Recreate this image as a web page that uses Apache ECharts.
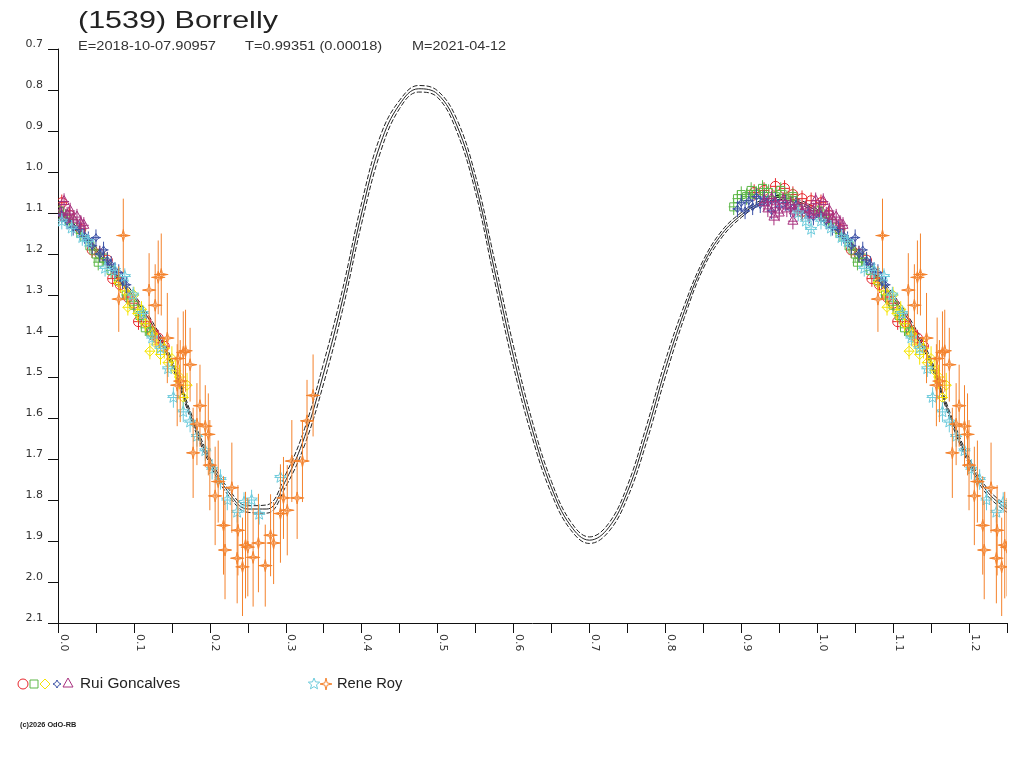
<!DOCTYPE html>
<html>
<head>
<meta charset="utf-8">
<title>(1539) Borrelly</title>
<script src="https://cdn.jsdelivr.net/npm/echarts@6.0.0/dist/echarts.min.js"></script>
<style>
  html, body { margin: 0; padding: 0; background: #fff; }
  #chart { width: 1024px; height: 768px; }
</style>
</head>
<body>
<div id="chart"></div>
<script>
// 光变曲线拟合 (phase 0..1, 之后 0..0.25 折叠重复)
var curvePhase = [0.000, 0.025, 0.050, 0.075, 0.100, 0.125, 0.150, 0.175, 0.200, 0.225,
  0.250, 0.275, 0.300, 0.325, 0.350, 0.375, 0.400, 0.425, 0.450, 0.475,
  0.500, 0.525, 0.550, 0.575, 0.600, 0.625, 0.650, 0.675, 0.700, 0.725,
  0.750, 0.775, 0.800, 0.825, 0.850, 0.875, 0.900, 0.925, 0.950, 0.975, 1.000];
var curveMag = [1.097, 1.140, 1.190, 1.245, 1.305, 1.375, 1.465, 1.595, 1.705, 1.782,
  1.822, 1.822, 1.752, 1.645, 1.490, 1.310, 1.100, 0.930, 0.835, 0.797,
  0.810, 0.885, 1.030, 1.240, 1.450, 1.630, 1.770, 1.862, 1.898, 1.868,
  1.780, 1.640, 1.480, 1.340, 1.225, 1.150, 1.105, 1.075, 1.062, 1.072, 1.097];
var curveHi = [1.091, 1.134, 1.184, 1.238, 1.298, 1.367, 1.457, 1.587, 1.697, 1.774,
  1.814, 1.812, 1.737, 1.625, 1.465, 1.285, 1.075, 0.910, 0.825, 0.789,
  0.802, 0.870, 1.010, 1.215, 1.425, 1.610, 1.755, 1.852, 1.890, 1.858,
  1.765, 1.620, 1.460, 1.325, 1.215, 1.142, 1.099, 1.070, 1.057, 1.067, 1.091];
var curveLo = [1.103, 1.146, 1.196, 1.252, 1.312, 1.383, 1.473, 1.603, 1.713, 1.790,
  1.830, 1.832, 1.767, 1.665, 1.515, 1.335, 1.125, 0.950, 0.845, 0.805,
  0.818, 0.900, 1.050, 1.265, 1.475, 1.650, 1.785, 1.872, 1.906, 1.878,
  1.795, 1.660, 1.500, 1.355, 1.235, 1.158, 1.111, 1.080, 1.067, 1.077, 1.103];

// Rui Goncalves: [phase, mag, err]
var rgRed = [[0.917, 1.050, 0.02], [0.930, 1.045, 0.02], [0.945, 1.035, 0.02], [0.957, 1.040, 0.02],
  [0.968, 1.055, 0.02], [0.980, 1.065, 0.02], [0.992, 1.070, 0.02], [0.005, 1.075, 0.02],
  [0.015, 1.105, 0.02], [0.030, 1.140, 0.02], [0.045, 1.190, 0.02], [0.055, 1.200, 0.02],
  [0.065, 1.215, 0.02], [0.072, 1.260, 0.02], [0.082, 1.275, 0.02], [0.092, 1.305, 0.02],
  [0.100, 1.320, 0.02], [0.106, 1.365, 0.02], [0.116, 1.365, 0.02], [0.124, 1.390, 0.02],
  [0.132, 1.405, 0.02], [0.140, 1.425, 0.02]];
var rgGreen = [[0.890, 1.085, 0.02], [0.895, 1.065, 0.02], [0.900, 1.055, 0.02], [0.907, 1.060, 0.02],
  [0.913, 1.045, 0.02], [0.920, 1.055, 0.02], [0.928, 1.040, 0.02], [0.936, 1.050, 0.02],
  [0.945, 1.060, 0.02], [0.952, 1.045, 0.02], [0.960, 1.065, 0.02], [0.968, 1.060, 0.02],
  [0.002, 1.095, 0.02], [0.010, 1.110, 0.02], [0.020, 1.125, 0.02], [0.030, 1.150, 0.02],
  [0.042, 1.180, 0.02], [0.050, 1.200, 0.02], [0.053, 1.220, 0.02], [0.060, 1.210, 0.02],
  [0.070, 1.240, 0.02], [0.080, 1.265, 0.02], [0.090, 1.300, 0.02], [0.100, 1.325, 0.02],
  [0.108, 1.350, 0.02], [0.115, 1.380, 0.02], [0.122, 1.390, 0.02]];
var rgYellow = [[0.975, 1.090, 0.02], [0.980, 1.100, 0.02], [0.080, 1.270, 0.02], [0.088, 1.290, 0.02],
  [0.092, 1.330, 0.02], [0.100, 1.300, 0.02], [0.105, 1.345, 0.02], [0.110, 1.335, 0.02],
  [0.115, 1.370, 0.02], [0.121, 1.437, 0.02], [0.125, 1.395, 0.02], [0.130, 1.420, 0.025],
  [0.135, 1.445, 0.025], [0.140, 1.430, 0.025], [0.145, 1.465, 0.025], [0.150, 1.455, 0.03],
  [0.155, 1.485, 0.03], [0.160, 1.500, 0.03], [0.165, 1.550, 0.03], [0.170, 1.520, 0.03]];
var rgBlue = [[0.895, 1.090, 0.02], [0.900, 1.075, 0.02], [0.905, 1.095, 0.02], [0.910, 1.070, 0.02],
  [0.915, 1.085, 0.02], [0.920, 1.060, 0.02], [0.925, 1.080, 0.02], [0.930, 1.065, 0.02],
  [0.935, 1.075, 0.02], [0.940, 1.095, 0.02], [0.945, 1.070, 0.02], [0.950, 1.085, 0.02],
  [0.958, 1.075, 0.02], [0.965, 1.090, 0.02], [0.972, 1.080, 0.02], [0.980, 1.095, 0.02],
  [0.988, 1.100, 0.02], [0.995, 1.110, 0.02], [0.005, 1.105, 0.02], [0.012, 1.120, 0.02],
  [0.020, 1.135, 0.02], [0.028, 1.140, 0.02], [0.035, 1.155, 0.02], [0.040, 1.165, 0.02],
  [0.045, 1.180, 0.02], [0.050, 1.160, 0.02], [0.055, 1.200, 0.02], [0.060, 1.190, 0.02],
  [0.065, 1.215, 0.02], [0.070, 1.225, 0.02], [0.075, 1.240, 0.02], [0.080, 1.245, 0.02],
  [0.085, 1.265, 0.02], [0.090, 1.275, 0.02]];
var rgPurple = [[0.930, 1.075, 0.02], [0.935, 1.090, 0.02], [0.940, 1.065, 0.02], [0.943, 1.110, 0.02],
  [0.945, 1.080, 0.02], [0.950, 1.100, 0.02], [0.955, 1.070, 0.02], [0.960, 1.090, 0.02],
  [0.965, 1.080, 0.02], [0.968, 1.120, 0.02], [0.970, 1.095, 0.02], [0.975, 1.085, 0.02],
  [0.980, 1.100, 0.02], [0.985, 1.090, 0.02], [0.990, 1.105, 0.02], [0.995, 1.095, 0.02],
  [0.998, 1.070, 0.02], [0.003, 1.100, 0.02], [0.008, 1.072, 0.02], [0.012, 1.105, 0.02],
  [0.016, 1.095, 0.02], [0.020, 1.115, 0.02], [0.025, 1.110, 0.02], [0.030, 1.125, 0.02],
  [0.034, 1.130, 0.02]];

// Rene Roy
var rrCyan = [[0.975, 1.100, 0.02], [0.985, 1.120, 0.02], [0.992, 1.140, 0.02], [0.005, 1.120, 0.02],
  [0.018, 1.137, 0.02], [0.032, 1.160, 0.02], [0.040, 1.170, 0.02], [0.062, 1.235, 0.02],
  [0.075, 1.240, 0.02], [0.088, 1.255, 0.02], [0.099, 1.300, 0.02], [0.112, 1.345, 0.02],
  [0.124, 1.405, 0.02], [0.135, 1.430, 0.02], [0.145, 1.480, 0.02], [0.152, 1.550, 0.025],
  [0.165, 1.585, 0.025], [0.174, 1.610, 0.025], [0.183, 1.645, 0.025], [0.194, 1.680, 0.025],
  [0.203, 1.725, 0.025], [0.214, 1.750, 0.025], [0.223, 1.800, 0.025], [0.236, 1.830, 0.025],
  [0.245, 1.806, 0.025], [0.255, 1.800, 0.025], [0.265, 1.835, 0.025], [0.293, 1.745, 0.025]];
var rrOrange = [[0.080, 1.310, 0.08], [0.086, 1.155, 0.09], [0.120, 1.288, 0.09], [0.128, 1.325, 0.10],
  [0.132, 1.257, 0.09], [0.136, 1.250, 0.10], [0.144, 1.405, 0.11], [0.157, 1.520, 0.10],
  [0.158, 1.455, 0.10], [0.165, 1.440, 0.10], [0.168, 1.436, 0.10], [0.174, 1.470, 0.09],
  [0.161, 1.510, 0.10], [0.187, 1.570, 0.10], [0.183, 1.615, 0.10], [0.194, 1.620, 0.10],
  [0.198, 1.640, 0.10], [0.178, 1.685, 0.11], [0.200, 1.715, 0.11], [0.211, 1.755, 0.10],
  [0.207, 1.790, 0.12], [0.229, 1.770, 0.11], [0.218, 1.862, 0.12], [0.237, 1.874, 0.11],
  [0.220, 1.922, 0.12], [0.247, 1.910, 0.13], [0.250, 1.915, 0.12], [0.264, 1.905, 0.12],
  [0.236, 1.942, 0.11], [0.243, 1.963, 0.12], [0.257, 1.940, 0.12], [0.273, 1.960, 0.10],
  [0.280, 1.886, 0.10], [0.284, 1.905, 0.10], [0.293, 1.833, 0.12], [0.302, 1.825, 0.11],
  [0.297, 1.795, 0.10], [0.315, 1.795, 0.10], [0.308, 1.705, 0.10], [0.322, 1.705, 0.10],
  [0.328, 1.607, 0.10], [0.336, 1.545, 0.10]];

var yTicks = [0.7, 2.1, 0.1];   // min, max, interval
var xTicks = [0, 1.25, 0.05];

var FONT = '"Liberation Sans", Arial, sans-serif';
var AXFONT = '"DejaVu Sans", sans-serif';

// 相位折叠: 0..0.25 的点在 1.0..1.25 重复画一次
function wrap(list) {
  var out = list.slice();
  list.forEach(function (d) {
    if (d[0] <= 0.25) out.push([d[0] + 1, d[1], d[2]]);
  });
  return out;
}

function wrapCurve(mags) {
  var out = [];
  curvePhase.forEach(function (p, i) { out.push([p, mags[i]]); });
  curvePhase.forEach(function (p, i) {
    if (p > 0 && p <= 0.25) out.push([p + 1, mags[i]]);
  });
  return out;
}

function starPts(x, y, R, r, n) {
  var pts = [];
  for (var i = 0; i < n * 2; i++) {
    var a = -Math.PI / 2 + i * Math.PI / n;
    var rad = i % 2 ? r : R;
    pts.push([x + rad * Math.cos(a), y + rad * Math.sin(a)]);
  }
  return pts;
}

// 各种符号
function markShape(kind, x, y, c) {
  var st = { fill: 'transparent', stroke: c, lineWidth: 1 };
  if (kind === 'circle') return { type: 'circle', shape: { cx: x, cy: y, r: 5 }, style: st };
  if (kind === 'square') return { type: 'rect', shape: { x: x - 4, y: y - 4, width: 8, height: 8 }, style: st };
  if (kind === 'diamond') return { type: 'polygon', shape: { points: [[x, y - 5], [x + 5, y], [x, y + 5], [x - 5, y]] }, style: st };
  if (kind === 'quad') return { type: 'polygon', shape: { points: starPts(x, y, 4, 2, 4) }, style: st };
  if (kind === 'triangle') return { type: 'polygon', shape: { points: [[x, y - 6], [x + 5, y + 3], [x - 5, y + 3]] }, style: st };
  if (kind === 'star') return { type: 'polygon', shape: { points: starPts(x, y, 6, 2.6, 5) }, style: st };
  return { type: 'polygon', shape: { points: starPts(x, y, 6, 1.6, 4) }, style: st };
}

function makeRender(kind, color, hw) {
  return function (params, api) {
    var p = api.value(0), m = api.value(1), e = api.value(2);
    var c = api.coord([p, m]);
    var top = api.coord([p, m - e]);
    var bot = api.coord([p, m + e]);
    var ls = { stroke: color, lineWidth: 1, fill: null };
    return {
      type: 'group',
      children: [
        { type: 'line', shape: { x1: c[0], y1: top[1], x2: c[0], y2: bot[1] }, style: ls },
        { type: 'line', shape: { x1: c[0] - hw, y1: c[1], x2: c[0] + hw, y2: c[1] }, style: ls },
        markShape(kind, c[0], c[1], color)
      ]
    };
  };
}

var sessions = [
  { name: 'Rui Goncalves', data: rgRed, kind: 'circle', color: '#e8262c', hw: 5 },
  { name: 'Rui Goncalves', data: rgGreen, kind: 'square', color: '#5cb746', hw: 5 },
  { name: 'Rui Goncalves', data: rgYellow, kind: 'diamond', color: '#f6e400', hw: 5 },
  { name: 'Rui Goncalves', data: rgBlue, kind: 'quad', color: '#3a50a6', hw: 5 },
  { name: 'Rui Goncalves', data: rgPurple, kind: 'triangle', color: '#a8307e', hw: 5 },
  { name: 'Rene Roy', data: rrCyan, kind: 'star', color: '#6ccbdc', hw: 6 },
  { name: 'Rene Roy', data: rrOrange, kind: 'sparkle', color: '#f4822c', hw: 7 }
];

var series = [
  { type: 'line', data: wrapCurve(curveHi), showSymbol: false, smooth: 0.4, silent: true, z: 1,
    lineStyle: { color: '#222', width: 1, type: [5, 2] } },
  { type: 'line', data: wrapCurve(curveLo), showSymbol: false, smooth: 0.4, silent: true, z: 1,
    lineStyle: { color: '#222', width: 1, type: [5, 2] } },
  { type: 'line', data: wrapCurve(curveMag), showSymbol: false, smooth: 0.4, silent: true, z: 1,
    lineStyle: { color: '#222', width: 1 } }
];
sessions.forEach(function (s) {
  series.push({
    type: 'custom', name: s.name, data: wrap(s.data), z: 2, clip: true,
    encode: { x: 0, y: 1 },
    renderItem: makeRender(s.kind, s.color, s.hw)
  });
});

// 图例
var legendEls = [];
[['circle', '#e8262c', 23], ['square', '#5cb746', 34], ['diamond', '#f6e400', 45],
 ['quad', '#3a50a6', 57], ['triangle', '#a8307e', 68],
 ['star', '#6ccbdc', 314], ['sparkle', '#f4822c', 326]].forEach(function (l) {
  legendEls.push(markShape(l[0], l[2], 684, l[1]));
});
legendEls.push({ type: 'text', x: 80, y: 684, scaleX: 1.1,
  style: { text: 'Rui Goncalves', font: '14px ' + FONT, fill: '#222', verticalAlign: 'middle' } });
legendEls.push({ type: 'text', x: 337, y: 684, scaleX: 1.05,
  style: { text: 'Rene Roy', font: '14px ' + FONT, fill: '#222', verticalAlign: 'middle' } });

var chart = echarts.init(document.getElementById('chart'), null, { renderer: 'canvas' });
chart.setOption({
  animation: false,
  backgroundColor: '#fff',
  grid: { left: 58, right: 17, top: 49, bottom: 145 },
  xAxis: {
    type: 'value', min: xTicks[0], max: xTicks[1], interval: xTicks[2],
    axisLine: { lineStyle: { color: '#111', width: 1 } },
    axisTick: { length: 10, lineStyle: { color: '#111' } },
    splitLine: { show: false },
    axisLabel: {
      rotate: -90, margin: 11, color: '#333', fontSize: 11, fontFamily: AXFONT,
      verticalAlign: 'bottom', lineHeight: 11,
      formatter: function (v) {
        var k = Math.round(v * 100);
        return k % 10 === 0 ? (k / 100).toFixed(1) : '';
      }
    }
  },
  yAxis: {
    type: 'value', inverse: true, min: yTicks[0], max: yTicks[1], interval: yTicks[2],
    axisLine: { show: true, lineStyle: { color: '#111', width: 1 } },
    axisTick: { show: true, length: 10, lineStyle: { color: '#111' } },
    splitLine: { show: false },
    axisLabel: {
      margin: 15, color: '#333', fontSize: 11, fontFamily: AXFONT,
      verticalAlign: 'bottom', lineHeight: 10,
      formatter: function (v) { return v.toFixed(1); }
    }
  },
  graphic: [
    { type: 'text', x: 78, y: 9, scaleX: 1.27,
      style: { text: '(1539) Borrelly', font: '24px ' + FONT, fill: '#222' } },
    { type: 'text', x: 78, y: 41, scaleX: 1.22,
      style: { text: 'E=2018-10-07.90957', font: '12px ' + FONT, fill: '#333' } },
    { type: 'text', x: 245, y: 41, scaleX: 1.22,
      style: { text: 'T=0.99351 (0.00018)', font: '12px ' + FONT, fill: '#333' } },
    { type: 'text', x: 412, y: 41, scaleX: 1.2,
      style: { text: 'M=2021-04-12', font: '12px ' + FONT, fill: '#333' } },
    { type: 'text', x: 20, y: 722, scaleX: 1.05,
      style: { text: '(c)2026 OdO-RB', font: 'bold 7px ' + FONT, fill: '#222' } },
    { type: 'group', children: legendEls }
  ],
  series: series
});
</script>
</body>
</html>
